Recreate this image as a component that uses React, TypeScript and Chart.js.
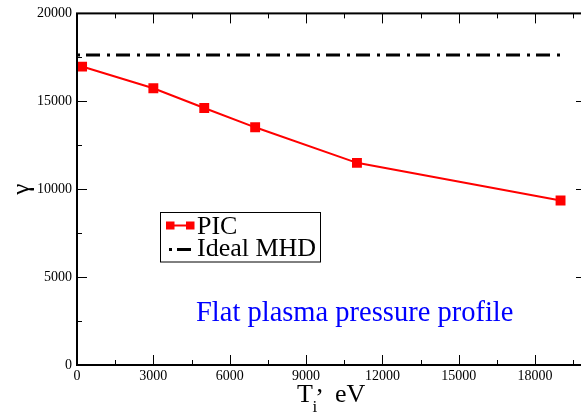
import React, { useEffect, useRef } from "react";
import { Chart, registerables } from "chart.js";

Chart.register(...registerables);

// ---- data ----
const tiValues = [200, 3000, 5000, 7000, 11000, 19000];
const picGamma = [16975, 15740, 14620, 13520, 11500, 9360];
const mhdTi = [0, 19000];
const mhdGamma = [17630, 17630];
const xTickValues = [0, 3000, 6000, 9000, 12000, 15000, 18000];
const yTickValues = [0, 5000, 10000, 15000, 20000];
const xMinorStep = 1500;
const yMinorStep = 2500;
const xRange = [0, 20000];
const yRange = [0, 20000];
const seriesLabels = ["PIC", "Ideal MHD"];
const annotationText = "Flat plasma pressure profile";
const yTitleText = "γ";
const xTitleMain = "T";
const xTitleSub = "i";
const xTitleComma = ",";
const xTitleUnit = "eV";

const SERIF = "'Liberation Serif', 'Times New Roman', serif";
const CANVAS_W = 600;
const CANVAS_H = 419;

const decorPlugin = {
  id: "decor",
  afterDatasetsDraw(chart: any) {
    const { ctx, chartArea: a, scales } = chart;
    const x = scales.x;
    const y = scales.y;
    const line = (x1: number, y1: number, x2: number, y2: number) => {
      ctx.beginPath();
      ctx.moveTo(x1, y1);
      ctx.lineTo(x2, y2);
      ctx.stroke();
    };
    ctx.save();
    ctx.strokeStyle = "#000";
    ctx.lineWidth = 1;
    // inward ticks on all four sides
    for (let v = xRange[0]; v <= xRange[1]; v += xMinorStep) {
      const len = xTickValues.includes(v) ? 10 : 5;
      const px = Math.round(x.getPixelForValue(v)) + 0.5;
      line(px, a.bottom, px, a.bottom - len);
      line(px, a.top, px, a.top + len);
    }
    for (let v = yRange[0]; v <= yRange[1]; v += yMinorStep) {
      const len = yTickValues.includes(v) ? 10 : 5;
      const py = Math.round(y.getPixelForValue(v)) + 0.5;
      line(a.left, py, a.left + len, py);
      line(a.right, py, a.right - len, py);
    }
    // frame
    ctx.lineWidth = 2;
    ctx.strokeRect(a.left, a.top, a.right - a.left, a.bottom - a.top);

    // legend
    const ds0 = chart.data.datasets[0];
    const ds1 = chart.data.datasets[1];
    const bx = 160.5, by = 212.5, bw = 160, bh = 49.5;
    ctx.fillStyle = "#fff";
    ctx.fillRect(bx, by, bw, bh);
    ctx.lineWidth = 1;
    ctx.strokeStyle = "#000";
    ctx.strokeRect(bx, by, bw, bh);
    // PIC sample
    ctx.strokeStyle = ds0.borderColor;
    ctx.lineWidth = 2;
    line(170, 225.5, 190, 225.5);
    ctx.fillStyle = ds0.backgroundColor;
    ctx.fillRect(166, 221.5, 8.5, 8);
    ctx.fillRect(186, 221.5, 8.5, 8);
    // MHD sample
    ctx.strokeStyle = ds1.borderColor;
    ctx.lineWidth = 3;
    line(169, 249.5, 172, 249.5);
    line(177, 249.5, 191, 249.5);
    ctx.fillStyle = "#000";
    ctx.font = `26px ${SERIF}`;
    ctx.textAlign = "left";
    ctx.textBaseline = "alphabetic";
    ctx.fillText(seriesLabels[0], 197, 233.5);
    ctx.fillText(seriesLabels[1], 197, 256);

    // annotation
    ctx.fillStyle = "#0000ff";
    ctx.font = `28.5px ${SERIF}`;
    ctx.fillText(annotationText, 196, 321);

    // x title with subscript
    ctx.fillStyle = "#000";
    ctx.font = `26px ${SERIF}`;
    ctx.fillText(xTitleMain, 297, 401.5);
    ctx.font = `17px ${SERIF}`;
    ctx.fillText(xTitleSub, 312.5, 411.5);
    ctx.font = `26px ${SERIF}`;
    ctx.fillText(xTitleComma, 316.5, 392);
    ctx.fillText(xTitleUnit, 335, 401.5);
    ctx.restore();
  },
};

export default function App() {
  const ref = useRef<HTMLCanvasElement | null>(null);
  useEffect(() => {
    if (!ref.current) return;
    const chart = new Chart(ref.current, {
      type: "line",
      data: {
        datasets: [
          {
            label: seriesLabels[0],
            data: tiValues.map((v, i) => ({ x: v, y: picGamma[i] })),
            borderColor: "#ff0000",
            backgroundColor: "#ff0000",
            borderWidth: 2,
            pointStyle: "rect",
            pointRadius: 7,
            pointBorderWidth: 0,
            pointBackgroundColor: "#ff0000",
            tension: 0,
          },
          {
            label: seriesLabels[1],
            data: mhdTi.map((v, i) => ({ x: v, y: mhdGamma[i] })),
            borderColor: "#000000",
            backgroundColor: "#000000",
            borderWidth: 3,
            borderDash: [3, 6, 14, 7],
            pointRadius: 0,
            tension: 0,
          },
        ],
      },
      options: {
        animation: false,
        responsive: false,
        devicePixelRatio: 1,
        layout: { autoPadding: false, padding: { left: 0, top: 9, right: CANVAS_W - 586, bottom: 0 } },
        plugins: { legend: { display: false }, tooltip: { enabled: false } },
        scales: {
          x: {
            type: "linear",
            min: xRange[0],
            max: xRange[1],
            afterBuildTicks: (s: any) => {
              s.ticks = xTickValues.map((v) => ({ value: v }));
            },
            afterFit: (s: any) => {
              s.height = 54;
            },
            grid: { display: false, drawTicks: false },
            border: { display: false },
            ticks: {
              padding: 3,
              color: "#000",
              maxRotation: 0,
              font: { family: SERIF, size: 14 },
              callback: (v: any) => String(v),
            },
          },
          y: {
            type: "linear",
            min: yRange[0],
            max: yRange[1],
            afterBuildTicks: (s: any) => {
              s.ticks = yTickValues.map((v) => ({ value: v }));
            },
            afterFit: (s: any) => {
              s.width = 77;
            },
            grid: { display: false, drawTicks: false },
            border: { display: false },
            ticks: {
              padding: 5,
              color: "#000",
              font: { family: SERIF, size: 14 },
              callback: (v: any) => String(v),
            },
            title: {
              display: true,
              text: yTitleText,
              color: "#000",
              font: { family: SERIF, size: 25 },
              padding: { top: 7, bottom: 0 },
            },
          },
        },
      },
      plugins: [decorPlugin],
    } as any);
    return () => chart.destroy();
  }, []);
  return (
    <div style={{ position: "absolute", left: 0, top: 0, width: 581, height: 419, overflow: "hidden" }}>
      <canvas ref={ref} width={CANVAS_W} height={CANVAS_H} style={{ display: "block" }} />
    </div>
  );
}
